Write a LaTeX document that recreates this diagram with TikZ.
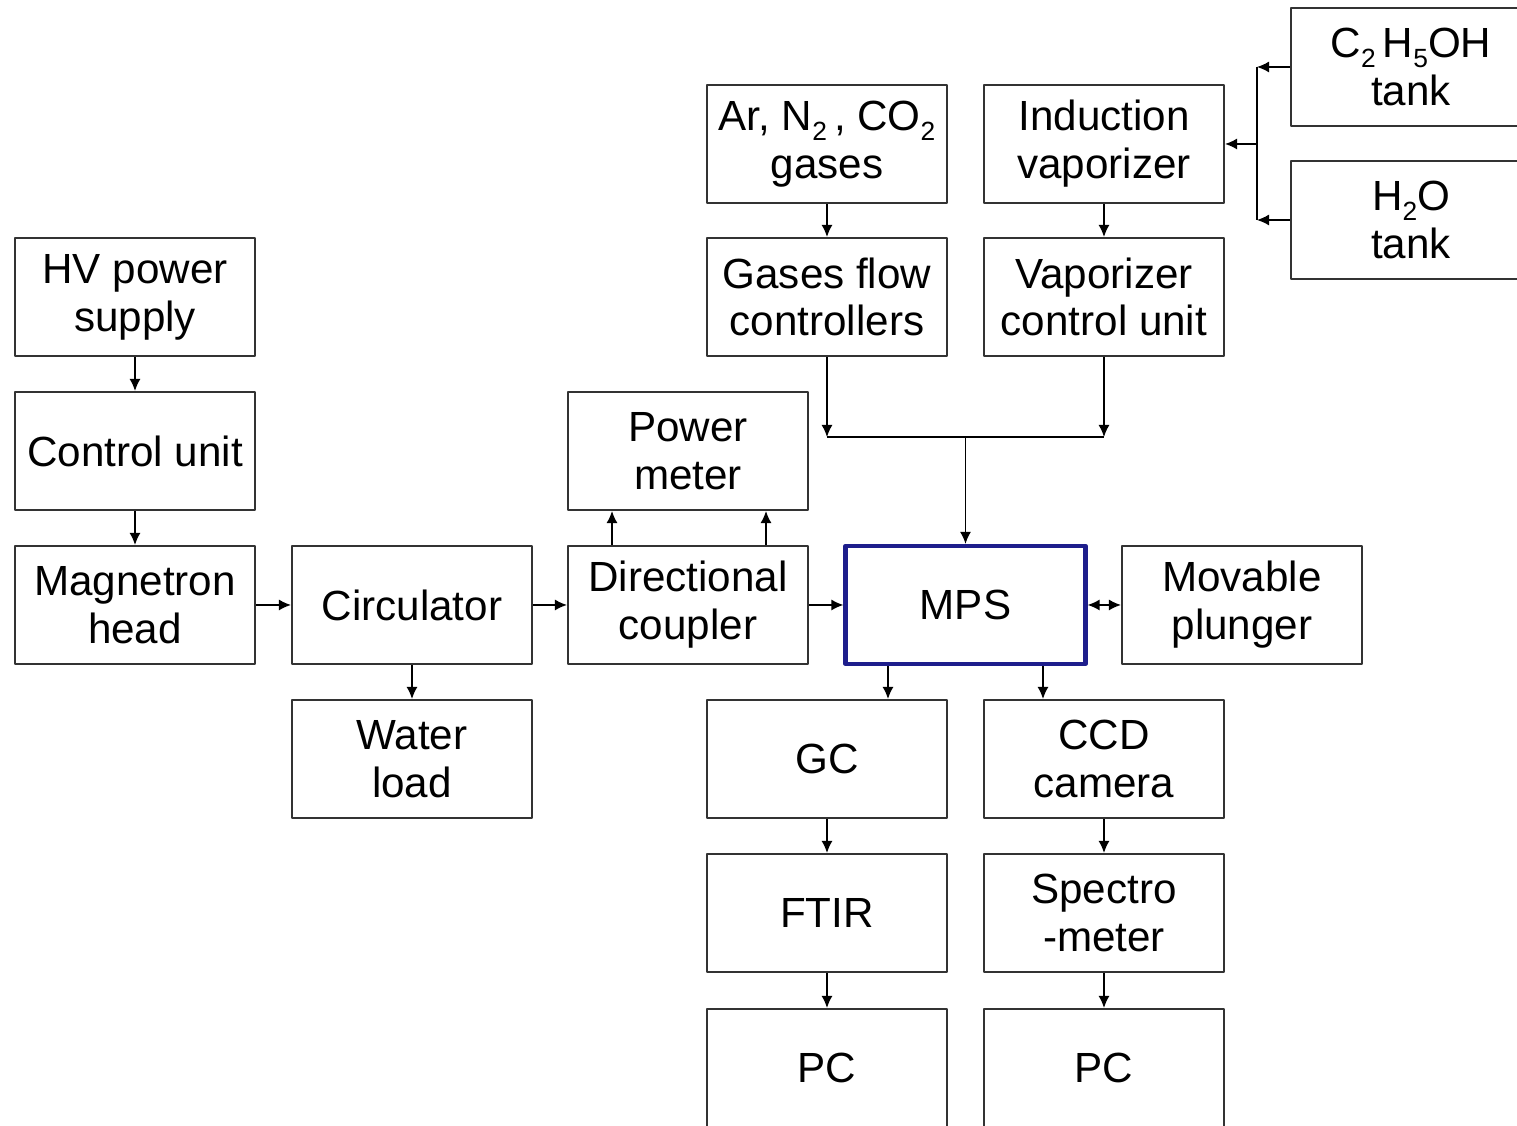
\documentclass[tikz,border=0pt]{standalone}
\usepackage{fontspec}
\setmainfont{Liberation Sans}
\usetikzlibrary{arrows.meta}
\definecolor{mpsblue}{RGB}{30,30,140}
\newcommand\subidx[1]{\raisebox{-0.45ex}{\fontsize{7.5}{7.5}\selectfont #1}}
\tikzset{blk/.style={draw=black!80,line width=0.6pt,minimum width=2.4cm,minimum height=1.18cm,align=center,inner sep=1pt},
  mpsblk/.style={blk,draw=mpsblue,line width=1.2pt}}

\begin{document}
\begin{tikzpicture}[>={Latex[length=1.2mm,width=1.1mm]},line join=round,font=\fontsize{12}{13.6}\selectfont]
\useasboundingbox (0,0) rectangle (15.17,11.26); \clip (0,0) rectangle (15.17,11.26);
% --- 1: source chain
\node[blk] (hv) at (1.35,8.29) {HV power\\supply};
\node[blk] (ctrl) at (1.35,6.75) {Control unit};
\node[blk] (mag) at (1.35,5.21) {Magnetron\\head};
\node[blk] (circ) at (4.12,5.21) {Circulator};
\node[blk] (water) at (4.12,3.67) {Water\\load};
\node[blk] (dc) at (6.88,5.21) {Directional\\coupler};
\node[blk] (pm) at (6.88,6.75) {Power\\meter};
\node[mpsblk] (mps) at (9.655,5.21) {MPS};
\node[blk] (plunger) at (12.42,5.21) {Movable\\plunger};
\draw[->] (hv) -- (ctrl); \draw[->] (ctrl) -- (mag);
\draw[->] (mag) -- (circ); \draw[->] (circ) -- (dc); \draw[->] (circ) -- (water);
\draw[->] (dc) -- (mps); \draw[<->] (mps) -- (plunger);
\draw[->] ([xshift=-7.6mm]dc.north) -- ([xshift=-7.6mm]pm.south);
\draw[->] ([xshift=7.8mm]dc.north) -- ([xshift=7.8mm]pm.south);
% --- 2: gas and vapour feed
\node[blk] (gas) at (8.27,9.82) {Ar, N\subidx{2}\,, CO\subidx{2}\\gases};
\node[blk] (gfc) at (8.27,8.29) {Gases flow\\controllers};
\node[blk] (ivap) at (11.04,9.82) {Induction\\vaporizer};
\node[blk] (vcu) at (11.04,8.29) {Vaporizer\\control unit};
\node[blk] (etank) at (14.11,10.59) {C\subidx{2}\,H\subidx{5}OH\\tank};
\node[blk] (wtank) at (14.11,9.06) {H\subidx{2}O\\tank};
\draw[->] (gas) -- (gfc); \draw[->] (ivap) -- (vcu);
\coordinate (feed) at (9.655,6.89); \coordinate (tbus) at (12.57,9.82);
\draw[->] (gfc.south) -- (gfc.south |- feed); \draw[->] (vcu.south) -- (vcu.south |- feed);
\draw (gfc.south |- feed) -- (vcu.south |- feed); \draw[->] (feed) -- (mps.north);
\draw[->] (etank.west) -- (etank.west -| tbus); \draw[->] (wtank.west) -- (wtank.west -| tbus);
\draw (etank.west -| tbus) -- (wtank.west -| tbus); \draw[->] (tbus |- ivap.east) -- (ivap.east);
% --- 3: diagnostics
\node[blk] (gc) at (8.27,3.67) {GC};
\node[blk] (ftir) at (8.27,2.13) {FTIR};
\node[blk] (pca) at (8.27,0.58) {PC};
\node[blk] (ccd) at (11.04,3.67) {CCD\\camera};
\node[blk] (spec) at (11.04,2.13) {Spectro\\-meter};
\node[blk] (pcb) at (11.04,0.58) {PC};
\draw[->] ([xshift=-7.75mm]mps.south) coordinate (ga) -- (ga |- gc.north);
\draw[->] ([xshift=7.75mm]mps.south) coordinate (cb) -- (cb |- ccd.north);
\draw[->] (gc) -- (ftir); \draw[->] (ftir) -- (pca);
\draw[->] (ccd) -- (spec); \draw[->] (spec) -- (pcb);
\end{tikzpicture}
\end{document}
